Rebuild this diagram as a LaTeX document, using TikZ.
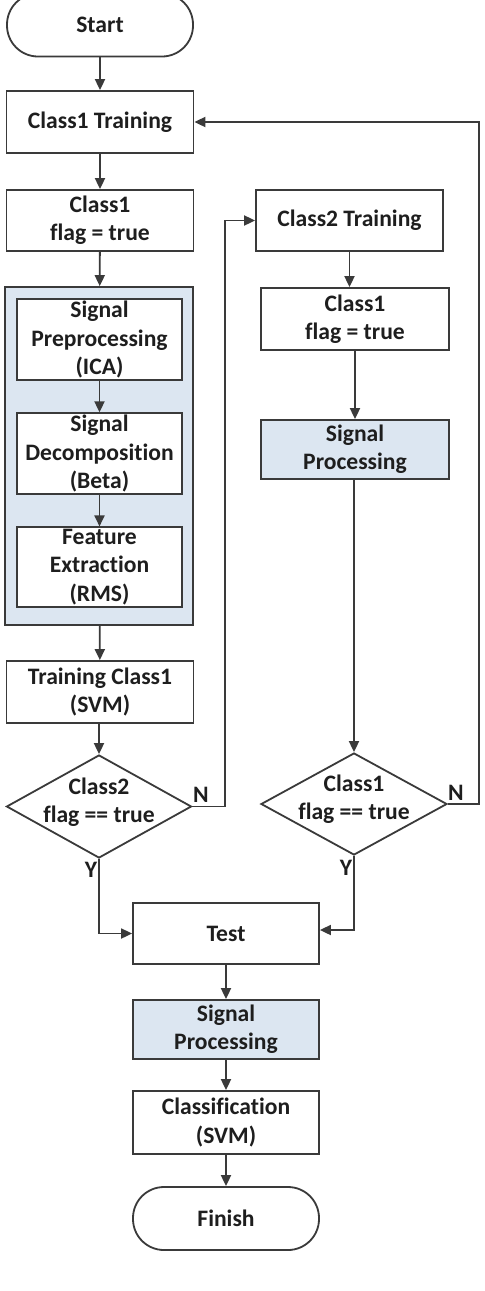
\documentclass[tikz,border=0pt]{standalone}
\usepackage{fontspec}
\setmainfont{Carlito}[Ligatures={NoCommon}]
\usetikzlibrary{arrows.meta,shapes.geometric}
\definecolor{edgec}{HTML}{3A3A3A}
\definecolor{txtc}{HTML}{1E1E1E}
\definecolor{blueb}{HTML}{DCE6F1}
\tikzset{
  base/.style={draw=edgec, line width=0.9pt, text=txtc, font=\fontsize{11.8}{14.1}\selectfont\bfseries, align=center, inner sep=1pt},
  procbox/.style={base, rectangle, minimum width=93.5pt},
  termbox/.style={base, rectangle, rounded corners=15.5pt, minimum width=93pt, minimum height=31.5pt},
  innerbox/.style={base, rectangle, fill=white, minimum width=82.5pt, minimum height=39pt},
  decbox/.style={draw=edgec, line width=0.9pt, diamond, inner sep=0pt, minimum width=92.5pt, minimum height=51.5pt},
  dtext/.style={text=txtc, font=\fontsize{11.8}{14.1}\selectfont\bfseries, align=center, inner sep=0pt},
  lbl/.style={text=txtc, font=\fontsize{11.8}{14.1}\selectfont\bfseries, inner sep=0pt},
  conn/.style={draw=edgec, line width=0.9pt, -{Triangle[length=5.5pt,width=5pt]}},
  line/.style={draw=edgec, line width=0.9pt}
}
\begin{document}
\begin{tikzpicture}[x=0.5pt,y=-0.5pt]
\useasboundingbox (0,0) rectangle (484,1291);
\fill[white] (0,0) rectangle (484,1291);
% left column
\node[termbox] (start) at (100,25) {Start};
\node[procbox, minimum height=31pt] (c1train) at (100,122) {Class1 Training};
\node[procbox, minimum height=30.5pt] (c1flag) at (100,220.5) {Class1\\flag = true};
\node[base, rectangle, fill=blueb, minimum width=94pt, minimum height=169pt] (cont) at (99,456) {};
\node[innerbox] (sp) at (99.5,339.5) {Signal\\Preprocessing\\(ICA)};
\node[innerbox] (sd) at (99.5,453.5) {Signal\\Decomposition\\(Beta)};
\node[innerbox, minimum height=39.5pt] (fe) at (99.5,567) {Feature\\Extraction\\(RMS)};
\node[procbox, minimum height=31pt] (trsvm) at (100,692) {Training Class1\\(SVM)};
\node[decbox] (d1) at (99,806.5) {};
\node[dtext] (d1t) at (99,802) {Class2\\flag == true};
% right column
\node[procbox, minimum height=30.5pt] (c2train) at (349.5,220.5) {Class2 Training};
\node[procbox, minimum width=94pt, minimum height=31pt] (c1flagR) at (355,319) {Class1\\flag = true};
\node[procbox, minimum width=94pt, minimum height=29.5pt, fill=blueb] (spR) at (355,449.5) {Signal\\Processing};
\node[decbox, minimum width=93pt, minimum height=51pt] (d2) at (354,804) {};
\node[dtext] (d2t) at (354,799) {Class1\\flag == true};
% bottom column
\node[procbox, minimum width=93pt, minimum height=30.5pt] (test) at (226,933.5) {Test};
\node[procbox, minimum width=93pt, minimum height=29.5pt, fill=blueb] (spB) at (226,1029.5) {Signal\\Processing};
\node[procbox, minimum width=93pt, minimum height=31.5pt] (cls) at (226,1122.5) {Classification\\(SVM)};
\node[termbox] (finish) at (226,1218.5) {Finish};
% helper coordinates
\coordinate (nL) at (225,806.5);
\coordinate (nR) at (479,804);
\coordinate (yL) at (99,933.5);
\coordinate (yR) at (354,930);
% connectors
\draw[conn] (start) -- (c1train);
\draw[conn] (c1train) -- (c1flag);
\draw[conn] (c1flag) -- (cont);
\draw[conn] (sp) -- (sd);
\draw[conn] (sd) -- (fe);
\draw[conn] (cont) -- (trsvm);
\draw[conn] (trsvm.south -| d1.north) -- (d1.north);
\draw[conn] (d1.east) -- (nL) |- (c2train.west);
\draw[conn] (c2train.south) -- (c2train.south |- c1flagR.north);
\draw[conn] (c1flagR) -- (spR);
\draw[conn] (spR.south -| d2.north) -- (d2.north);
\draw[conn] (d2.east) -- (nR) |- (c1train.east);
\draw[conn] (d1.south) -- (yL) -- (test.west);
\draw[conn] (d2.south) -- (yR) -- (yR -| test.east);
\draw[conn] (test) -- (spB);
\draw[conn] (spB) -- (cls);
\draw[conn] (cls) -- (finish);
% labels
\node[lbl] (n1) at (201,795) {N};
\node[lbl] (n2) at (456,793) {N};
\node[lbl] (y1) at (91,870) {Y};
\node[lbl] (y2) at (346,868) {Y};
\end{tikzpicture}
\end{document}
